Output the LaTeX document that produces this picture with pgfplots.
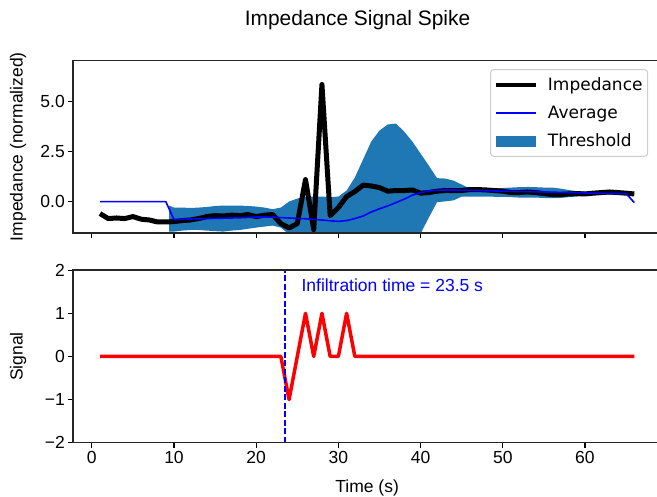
\documentclass[border=0pt]{standalone}
\usepackage{fontspec}
\setmainfont{Liberation Sans}
\newfontfamily\dejavu{DejaVu Sans}
\usepackage{pgfplots}
\pgfplotsset{compat=1.18}
\definecolor{tabblue}{HTML}{1F77B4}
\newcommand\tickfont{\fontsize{17.5}{20}\selectfont}
\pgfplotsset{myaxis/.style={
  scale only axis, width=587.7pt, height=172.5pt,
  xmin=-2.25, xmax=69.25,
  axis line style={line width=1.5pt},
  every tick/.style={black, line width=1.2pt},
  major tick length=5pt,
  tick align=outside, xtick pos=bottom, ytick pos=left,
  xtick={0,10,20,30,40,50,60},
  tick label style={font=\tickfont},
  /pgf/number format/assume math mode=true,
  every axis y label/.style={at={(axis description cs:-0.094,0.5)}, anchor=center, rotate=90, font=\tickfont},
  extra description/.code={\draw[black!85, line width=1.6pt] (0,0) rectangle (1,1);},
}}
\begin{document}
\begin{tikzpicture}
\begin{axis}[myaxis, at={(73.3pt,264pt)}, anchor=south west,
  ymin=-1.57, ymax=7.05, ytick={0,2.5,5}, yticklabels={0.0,2.5,5.0},
  xticklabels={{},{},{},{},{},{},{}},
  ylabel={Impedance (normalized)},
  legend style={at={(axis description cs:0.978,0.95)}, anchor=north east,
    draw=black!20, line width=1pt, rounded corners=3pt, fill=white,
    font=\dejavu\fontsize{17}{20}\selectfont, inner xsep=3pt, inner ysep=6pt, row sep=10pt},
  legend cell align=left]
\addplot[fill=tabblue, draw=none, forget plot] coordinates {
(9.4,-0.2) (10,-0.3) (11,-0.3) (12,-0.32) (13,-0.3) (14,-0.27) (15,-0.22) (16,-0.2) (17,-0.2) (18,-0.2) (19,-0.22) (20,-0.25) (21,-0.3) (22,-0.38) (23,-0.3) (24,0) (25,0.15) (26,0.25) (27,0.25) (28,0.25) (29,0.22) (30,0.25) (31,0.55) (32,1.2) (33,2.1) (34,3.0) (35,3.55) (36,3.85) (37,3.9) (38,3.5) (39,3.0) (40,2.4) (41,1.8) (42,1.17) (43,1.15) (44,1.05) (45,0.85) (46,0.65) (47,0.6) (48,0.62) (49,0.65) (50,0.68) (51,0.7) (52,0.72) (53,0.73) (54,0.72) (55,0.7) (56,0.7) (57,0.65) (58,0.58) (59,0.52) (60,0.5) (61,0.5) (62,0.5) (63,0.5) (64,0.5) (65,0.5)
(65,0.38) (64,0.35) (63,0.35) (62,0.35) (61,0.33) (60,0.3) (59,0.25) (58,0.22) (57,0.18) (56,0.17) (55,0.18) (54,0.2) (53,0.2) (52,0.2) (51,0.22) (50,0.24) (49,0.24) (48,0.25) (47,0.25) (46,0.25) (45,0.25) (44,0.06) (43,0.01) (42,-0.03) (41,-0.8) (40,-1.6) (39,-2.4) (38,-3.3) (37,-4.0) (36,-4.3) (35,-4.3) (34,-4.0) (33,-3.5) (32,-3.0) (31,-2.5) (30,-2.23) (29,-2.15) (28,-2.1) (27,-2.03) (26,-1.97) (25,-1.85) (24,-1.64) (23,-1.3) (22,-1.2) (21,-1.25) (20,-1.3) (19,-1.36) (18,-1.42) (17,-1.45) (16,-1.5) (15,-1.48) (14,-1.45) (13,-1.42) (12,-1.42) (11,-1.45) (10,-1.5) (9.4,-1.5)
} -- cycle;
\addplot[black, line width=5pt, line join=round,
  legend image code/.code={\draw[black,line width=4.5pt,sharp corners] (0pt,0pt) -- (40pt,0pt); \path[draw=none,fill=none] (0pt,0pt) -- (50pt,0pt);}] coordinates {
(1,-0.6) (2,-0.85) (3,-0.82) (4,-0.85) (5,-0.75) (6,-0.88) (7,-0.92) (8,-1.02) (9,-1.02) (10,-1.0) (11,-0.95) (12,-0.92) (13,-0.85) (14,-0.75) (15,-0.7) (16,-0.72) (17,-0.68) (18,-0.7) (19,-0.65) (20,-0.75) (21,-0.68) (22,-0.65) (23,-1.1) (24,-1.32) (25,-1.1) (26,1.1) (27,-1.4) (28,5.85) (29,-0.7) (30,-0.3) (31,0.25) (32,0.5) (33,0.82) (34,0.78) (35,0.7) (36,0.52) (37,0.55) (38,0.55) (39,0.58) (40,0.42) (41,0.45) (42,0.52) (43,0.55) (44,0.55) (45,0.55) (46,0.6) (47,0.6) (48,0.58) (49,0.55) (50,0.52) (51,0.45) (52,0.45) (53,0.48) (54,0.45) (55,0.4) (56,0.35) (57,0.35) (58,0.38) (59,0.4) (60,0.38) (61,0.42) (62,0.45) (63,0.48) (64,0.45) (65,0.42) (66,0.38)
};
\addlegendentry{Impedance}
\addplot[blue, line width=1.6pt, line join=round,
  legend image code/.code={\draw[blue,line width=1.6pt,sharp corners] (0pt,0pt) -- (40pt,0pt); \path[draw=none,fill=none] (0pt,0pt) -- (50pt,0pt);}] coordinates {
(1,0) (2,0) (3,0) (4,0) (5,0) (6,0) (7,0) (8,0) (9,0) (10,-0.9) (11,-0.88) (12,-0.87) (13,-0.86) (14,-0.85) (15,-0.84) (16,-0.83) (17,-0.82) (18,-0.81) (19,-0.79) (20,-0.77) (21,-0.77) (22,-0.78) (23,-0.8) (24,-0.82) (25,-0.84) (26,-0.86) (27,-0.89) (28,-0.92) (29,-0.96) (30,-0.99) (31,-0.95) (32,-0.85) (33,-0.72) (34,-0.52) (35,-0.36) (36,-0.22) (37,-0.05) (38,0.12) (39,0.32) (40,0.45) (41,0.53) (42,0.57) (43,0.58) (44,0.58) (45,0.57) (46,0.56) (47,0.55) (48,0.54) (49,0.53) (50,0.52) (51,0.51) (52,0.5) (53,0.5) (54,0.49) (55,0.48) (56,0.47) (57,0.46) (58,0.45) (59,0.44) (60,0.43) (61,0.42) (62,0.41) (63,0.41) (64,0.4) (65,0.4) (66,-0.05)
};
\addlegendentry{Average}
\addlegendimage{legend image code/.code={\fill[tabblue,draw=none,sharp corners] (0pt,-5.5pt) rectangle (40pt,5.5pt); \path[draw=none,fill=none] (0pt,0pt) -- (50pt,0pt);}}
\addlegendentry{Threshold}
\end{axis}
\begin{axis}[myaxis, at={(73.3pt,54.3pt)}, anchor=south west,
  ymin=-2, ymax=2, ytick={-2,-1,0,1,2}, yticklabels={−2,−1,0,1,2},
  xticklabels={0,10,20,30,40,50,60},
  xlabel={Time (s)}, xlabel style={at={(axis description cs:0.5,-0.289)}, anchor=base, font=\tickfont},
  ylabel={Signal}]
\addplot[red, line width=3.5pt, line join=round] coordinates {
(1,0) (23,0) (24,-1) (25,0) (26,1) (27,0) (28,1) (29,0) (30,0) (31,1) (32,0) (66,0)
};
\addplot[blue, line width=1.6pt, dash pattern=on 6pt off 2.5pt] coordinates {(23.5,-2) (23.5,2)};
\node[anchor=base west, inner sep=0pt, text=blue, font=\tickfont] at (axis cs:25.5,1.5) {Infiltration time = 23.5 s};
\end{axis}
\node[anchor=base, font=\fontsize{20.9}{24}\selectfont] at (357.5pt,471pt) {Impedance Signal Spike};
\pgfresetboundingbox
\path[use as bounding box] (0pt,0pt) rectangle (657pt,497pt);
\end{tikzpicture}
\end{document}
